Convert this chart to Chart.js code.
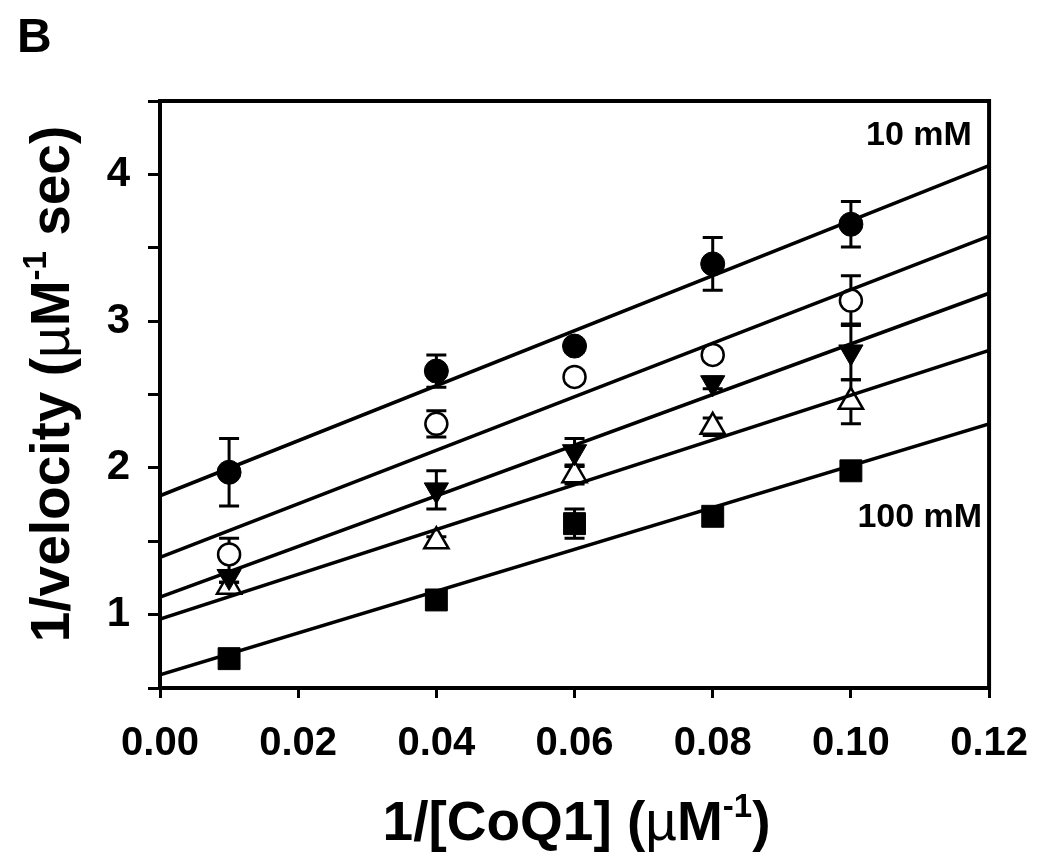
<!DOCTYPE html>
<html>
<head>
<meta charset="utf-8">
<script src="https://cdn.jsdelivr.net/npm/chart.js@4.4.1/dist/chart.umd.min.js"></script>
<style>
  html, body { margin: 0; padding: 0; background: #fff; }
  #wrap { width: 1050px; height: 867px; }
</style>
</head>
<body>
<div id="wrap"><canvas id="lbChart"></canvas></div>
<script>
// 1/[CoQ1] values (uM^-1)
const xValues = [0.01, 0.04, 0.06, 0.08, 0.10];

// 1/velocity, one array per concentration (10 mM on top ... 100 mM at bottom)
const yFilledCircle = [1.97, 2.66, 2.83, 3.39, 3.66];
const eFilledCircle = [0.23, 0.11, 0.04, 0.18, 0.155];

const yOpenCircle = [1.41, 2.30, 2.62, 2.77, 3.14];
const eOpenCircle = [0.11, 0.09, 0.04, 0.04, 0.17];

const yFilledDown = [1.26, 1.85, 2.11, 2.58, 2.79];
const eFilledDown = [0.04, 0.13, 0.09, 0.04, 0.19];

const yOpenUp = [1.19, 1.50, 1.95, 2.28, 2.45];
const eOpenUp = [0.03, 0.03, 0.06, 0.06, 0.15];

const ySquare = [0.70, 1.10, 1.62, 1.67, 1.98];
const eSquare = [0.02, 0.02, 0.10, 0.03, 0.03];

// fitted lines, value at x = 0 and x = 0.12
const fitX = [0, 0.12];
const fitFilledCircle = [1.81, 4.06];
const fitOpenCircle = [1.39, 3.58];
const fitFilledDown = [1.12, 3.19];
const fitOpenUp = [0.97, 2.80];
const fitSquare = [0.59, 2.30];

const xTicks = [0, 0.02, 0.04, 0.06, 0.08, 0.10, 0.12];

const FONT = "'Liberation Sans', Arial, sans-serif";

function pts(xs, ys) {
    return xs.map((x, i) => ({ x: x, y: ys[i] }));
}

function fitLine(vals) {
    return {
        data: pts(fitX, vals),
        showLine: true,
        borderColor: '#000',
        borderWidth: 3.5,
        pointRadius: 0,
        fill: false
    };
}

function markers(ys, errs, style, r, bg, bw, rot) {
    return {
        data: pts(xValues, ys),
        errors: errs,
        pointStyle: style,
        pointRadius: r,
        pointRotation: rot || 0,
        pointBackgroundColor: bg,
        pointBorderColor: '#000',
        pointBorderWidth: bw,
        showLine: false
    };
}

// draw text made of parts (for superscripts)
function drawParts(ctx, parts, x, y, size) {
    let total = 0;
    parts.forEach(p => {
        const s = p.sup ? size * 0.6 : size;
        ctx.font = (p.normal ? 'normal ' : 'bold ') + s + 'px ' + FONT;
        p.w = ctx.measureText(p.t).width;
        total += p.w;
    });
    let cx = x - total / 2;
    parts.forEach(p => {
        const s = p.sup ? size * 0.6 : size;
        ctx.font = (p.normal ? 'normal ' : 'bold ') + s + 'px ' + FONT;
        ctx.fillText(p.t, cx, p.sup ? y - size * 0.42 : y);
        cx += p.w;
    });
}

const errorBars = {
    id: 'errorBars',
    beforeDatasetsDraw(chart) {
        const ctx = chart.ctx;
        const xs = chart.scales.x, ys = chart.scales.y;
        ctx.save();
        ctx.strokeStyle = '#000';
        ctx.lineWidth = 3;
        chart.data.datasets.forEach(ds => {
            if (!ds.errors) return;
            ds.data.forEach((p, i) => {
                const e = ds.errors[i];
                const px = xs.getPixelForValue(p.x);
                const top = ys.getPixelForValue(p.y + e);
                const bot = ys.getPixelForValue(p.y - e);
                ctx.beginPath();
                ctx.moveTo(px, top); ctx.lineTo(px, bot);
                ctx.moveTo(px - 10, top); ctx.lineTo(px + 10, top);
                ctx.moveTo(px - 10, bot); ctx.lineTo(px + 10, bot);
                ctx.stroke();
            });
        });
        ctx.restore();
    }
};

const decorations = {
    id: 'decorations',
    afterDraw(chart) {
        const ctx = chart.ctx;
        const a = chart.chartArea;
        const xs = chart.scales.x, ys = chart.scales.y;
        ctx.save();
        // frame top + right
        ctx.strokeStyle = '#000';
        ctx.lineWidth = 4;
        ctx.beginPath();
        ctx.moveTo(a.left - 2, a.top);
        ctx.lineTo(a.right, a.top);
        ctx.lineTo(a.right, a.bottom + 2);
        ctx.stroke();

        ctx.fillStyle = '#000';
        ctx.textBaseline = 'alphabetic';
        ctx.textAlign = 'left';

        // panel letter
        ctx.font = 'bold 48px ' + FONT;
        ctx.fillText('B', 17, 52);

        // x title
        drawParts(ctx, [
            { t: '1/[CoQ1] (' },
            { t: 'µ', normal: true },
            { t: 'M' },
            { t: '-1', sup: true },
            { t: ')' }
        ], (a.left + a.right) / 2 + 2, 840, 55);

        // y title
        ctx.save();
        ctx.translate(69, 384);
        ctx.rotate(-Math.PI / 2);
        drawParts(ctx, [
            { t: '1/velocity (' },
            { t: 'µ', normal: true },
            { t: 'M' },
            { t: '-1', sup: true },
            { t: ' sec)' }
        ], 0, 0, 55);
        ctx.restore();

        // concentration labels
        ctx.font = 'bold 34px ' + FONT;
        ctx.textAlign = 'right';
        ctx.fillText('10 mM', xs.getPixelForValue(0.1175), ys.getPixelForValue(4.2));
        ctx.fillText('100 mM', xs.getPixelForValue(0.119), ys.getPixelForValue(1.6));
        ctx.restore();
    }
};

new Chart(document.getElementById('lbChart'), {
    type: 'scatter',
    data: {
        datasets: [
            fitLine(fitFilledCircle),
            fitLine(fitOpenCircle),
            fitLine(fitFilledDown),
            fitLine(fitOpenUp),
            fitLine(fitSquare),
            markers(yFilledCircle, eFilledCircle, 'circle', 12, '#000', 1),
            markers(yOpenCircle, eOpenCircle, 'circle', 11, '#fff', 2.5),
            markers(yFilledDown, eFilledDown, 'triangle', 14, '#000', 1, 180),
            markers(yOpenUp, eOpenUp, 'triangle', 14, '#fff', 2.5),
            markers(ySquare, eSquare, 'rect', 15.5, '#000', 1)
        ]
    },
    options: {
        responsive: true,
        maintainAspectRatio: false,
        animation: false,
        events: [],
        layout: { padding: { left: 0, right: 57, top: 101, bottom: 0 } },
        plugins: {
            legend: { display: false },
            tooltip: { enabled: false }
        },
        scales: {
            x: {
                type: 'linear',
                min: 0,
                max: 0.12,
                afterFit: s => { s.height = 179; },
                afterBuildTicks: s => { s.ticks = xTicks.map(v => ({ value: v })); },
                border: { display: true, color: '#000', width: 4 },
                grid: { drawOnChartArea: false, tickLength: 10, tickWidth: 3, tickColor: '#000' },
                ticks: {
                    color: '#000',
                    padding: 22,
                    maxRotation: 0,
                    font: { family: FONT, size: 40, weight: 'bold' },
                    callback: v => v.toFixed(2)
                }
            },
            y: {
                type: 'linear',
                min: 0.5,
                max: 4.5,
                afterFit: s => { s.width = 160; },
                border: { display: true, color: '#000', width: 4 },
                grid: { drawOnChartArea: false, tickLength: 12, tickWidth: 3, tickColor: '#000' },
                ticks: {
                    stepSize: 0.5,
                    color: '#000',
                    padding: 18,
                    font: { family: FONT, size: 42, weight: 'bold' },
                    callback: v => (Number.isInteger(v) ? String(v) : '')
                }
            }
        }
    },
    plugins: [errorBars, decorations]
});
</script>
</body>
</html>
